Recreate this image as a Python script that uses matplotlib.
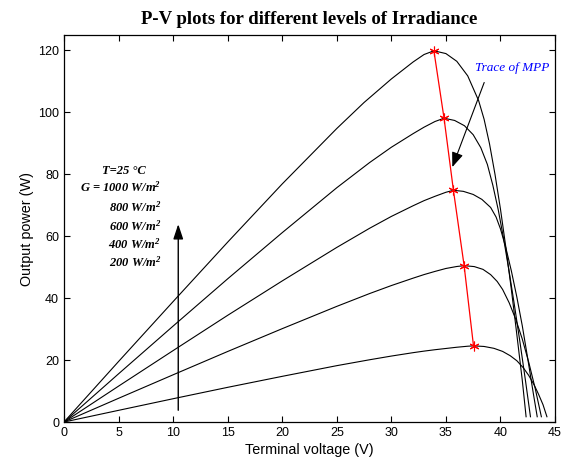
import matplotlib
matplotlib.use('Agg')
import matplotlib.pyplot as plt

# irradiance levels (W/m^2)
levels = [1000, 800, 600, 400, 200]

# P-V curves: terminal voltage (V), output power (W)
v_1000 = [0, 5, 10, 15, 20, 25, 27.5, 30, 32, 33, 33.9, 35, 36, 37, 38, 38.5, 39, 39.5, 40, 40.5, 41, 41.5, 42, 42.35]
p_1000 = [0, 19.55, 38.9, 58.1, 76.9, 94.8, 103.2, 110.8, 116.3, 118.7, 119.9, 119.0, 116.5, 111.8, 103.8, 97.8, 89.8, 80, 68.8, 56.3, 42.8, 28.3, 13.5, 1.7]

v_800 = [0, 5, 10, 15, 20, 25, 28, 30, 32, 33, 34, 34.83, 35.8, 36.7, 37.5, 38.2, 38.8, 39.3, 39.8, 40.3, 40.8, 41.3, 41.8, 42.3, 42.75]
p_800 = [0, 15.57, 30.99, 46.25, 61.16, 75.67, 83.78, 88.74, 93.15, 95.23, 97.06, 98.12, 97.4, 95.7, 92.8, 88.6, 83.2, 76.5, 68.5, 59, 48.5, 37.3, 25.5, 13.2, 1.7]

v_600 = [0, 5, 10, 15, 20, 25, 28, 30, 32, 33, 34, 35, 35.69, 36.6, 37.5, 38.3, 39.1, 39.6, 40.0, 40.5, 41.0, 41.5, 42.0, 42.5, 43.0, 43.37]
p_600 = [0, 11.59, 23.07, 34.46, 45.57, 56.39, 62.56, 66.4, 69.86, 71.5, 72.9, 74.2, 74.84, 74.5, 73.5, 71.9, 69.3, 66.2, 62.4, 56.2, 48.8, 40.4, 31.1, 20.5, 9.5, 1.7]

v_400 = [0, 5, 10, 15, 20, 25, 28, 30, 32, 33, 34, 35, 36, 36.67, 37.6, 38.4, 39.1, 39.7, 40.2, 40.8, 41.4, 42.0, 42.6, 43.2, 43.75]
p_400 = [0, 7.66, 15.25, 22.78, 30.15, 37.35, 41.48, 44.07, 46.47, 47.62, 48.64, 49.59, 50.23, 50.5, 50.2, 49.3, 47.6, 45.4, 42.8, 38.5, 33.2, 26.8, 19.2, 10.6, 1.7]

v_200 = [0, 5, 10, 15, 20, 25, 28, 30, 32, 33, 34, 35, 36, 37, 37.53, 38.5, 39.4, 40.2, 40.9, 41.5, 42.1, 42.6, 43.1, 43.5, 43.9, 44.26]
p_200 = [0, 3.77, 7.52, 11.2, 14.75, 18.2, 20.1, 21.3, 22.4, 22.9, 23.35, 23.75, 24.15, 24.48, 24.6, 24.4, 23.8, 22.8, 21.4, 19.8, 17.5, 15.0, 11.9, 8.9, 5.6, 1.7]

# maximum power points
v_mpp = [33.9, 34.83, 35.69, 36.67, 37.53]
p_mpp = [119.9, 98.12, 74.84, 50.5, 24.6]

x_ticks = [0, 5, 10, 15, 20, 25, 30, 35, 40, 45]
y_ticks = [0, 20, 40, 60, 80, 100, 120]

plt.rcParams['mathtext.fontset'] = 'custom'
plt.rcParams['mathtext.rm'] = 'Liberation Serif'
plt.rcParams['mathtext.it'] = 'Liberation Serif:italic'
plt.rcParams['mathtext.bf'] = 'Liberation Serif:bold:italic'

fig = plt.figure(figsize=(5.63, 4.66), dpi=100)
ax = fig.add_axes([0.1137, 0.0944, 0.8721, 0.8305])

curves = [(v_1000, p_1000), (v_800, p_800), (v_600, p_600), (v_400, p_400), (v_200, p_200)]
for v, p in curves:
    ax.plot(v, p, color='black', linewidth=0.8)

# MATLAB style '*' asterisk markers
ax.plot(v_mpp, p_mpp, color='red', linewidth=0.9, marker=(6, 2, 0), markersize=7,
        markeredgewidth=0.8, markeredgecolor='red')

ax.set_xlim(0, 45)
ax.set_ylim(0, 125)
ax.set_xticks(x_ticks)
ax.set_yticks(y_ticks)
ax.tick_params(direction='in', top=True, right=True, length=4, width=0.8,
               labelsize=9)
for lab in ax.get_xticklabels() + ax.get_yticklabels():
    lab.set_family('Liberation Sans')
for s in ax.spines.values():
    s.set_linewidth(0.9)

ax.set_xlabel('Terminal voltage (V)', fontsize=10.4, family='Liberation Sans', labelpad=3)
ax.set_ylabel('Output power (W)', fontsize=10.4, family='Liberation Sans', labelpad=3)
ax.set_title('P-V plots for different levels of Irradiance', fontsize=13.5,
             family='Liberation Serif', fontweight='bold', pad=8)

# trace of MPP annotation
ax.text(41.1, 114.5, 'Trace of MPP', color='blue', fontsize=9.5, style='italic',
        family='Liberation Serif', ha='center', va='center')
ax.annotate('', xy=(35.5, 81.5), xytext=(38.6, 110.5),
            arrowprops=dict(arrowstyle='-|>,head_length=0.9,head_width=0.35',
                            color='black', linewidth=0.8))

# increasing irradiance arrow
ax.annotate('', xy=(10.47, 64.8), xytext=(10.47, 2.9),
            arrowprops=dict(arrowstyle='-|>,head_length=0.9,head_width=0.3',
                            color='black', linewidth=1.0))

tfont = dict(fontsize=9, family='Liberation Serif', style='italic', fontweight='bold')
ax.text(5.5, 81, 'T=25 °C', ha='center', va='center', **tfont)
label_y = [75.7, 69.3, 63.1, 57.3, 51.5]
for i, g in enumerate(levels):
    txt = 'W/m$\\mathbf{^{2}}$'
    if i == 0:
        s = 'G = %d %s' % (g, txt)
    else:
        s = '%d %s' % (g, txt)
    ax.text(8.9, label_y[i], s, ha='right', va='center', **tfont)

fig.savefig('out.png', dpi=100)
